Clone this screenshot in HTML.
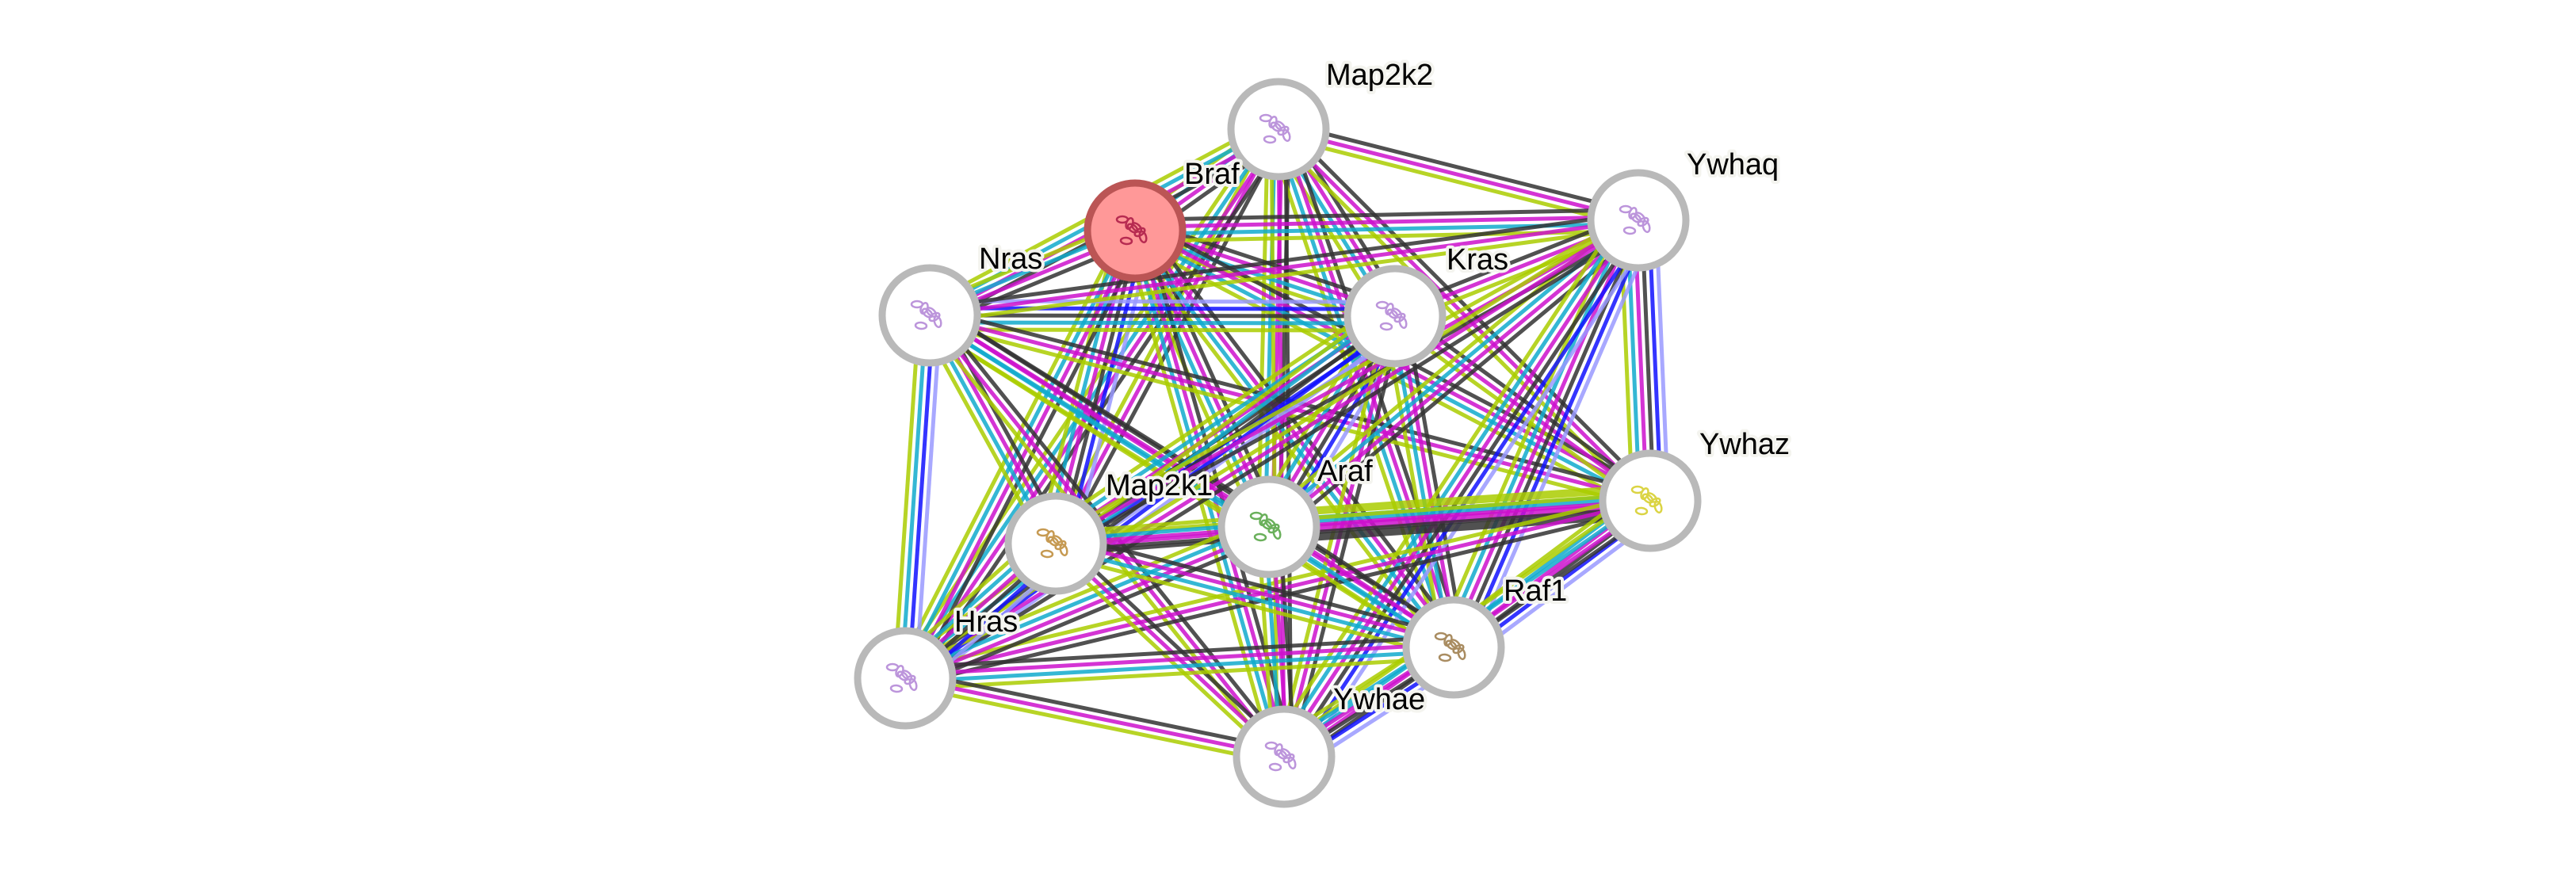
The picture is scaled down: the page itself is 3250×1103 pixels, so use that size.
<!DOCTYPE html>
<html><head><meta charset="utf-8">
<style>
html,body{margin:0;padding:0;background:#fff;width:3250px;height:1103px;overflow:hidden}
svg{display:block}
text{font-family:"Liberation Sans",Arial,sans-serif;font-size:38px;fill:#000;paint-order:stroke;stroke:#f4f4ef;stroke-width:8px;stroke-linejoin:round}
</style></head>
<body>
<svg id="s" width="3250" height="1103" viewBox="0 0 3250 1103" xmlns="http://www.w3.org/2000/svg">
<g id="edges"></g>
<g id="nodes"></g>
<g id="labels">
<text x="1673" y="107">Map2k2</text>
<text x="1494" y="232">Braf</text>
<text x="1235" y="339">Nras</text>
<text x="1825" y="340">Kras</text>
<text x="2128" y="220">Ywhaq</text>
<text x="2144" y="573">Ywhaz</text>
<text x="1662" y="607">Araf</text>
<text x="1395" y="625">Map2k1</text>
<text x="1204" y="797">Hras</text>
<text x="1897" y="758">Raf1</text>
<text x="1682" y="895">Ywhae</text>
</g>
</svg>
<script>
var N={A:[1613,163],B:[1432,291],N:[1173,398],K:[1760,399],Q:[2067,278],Z:[2082,632],R:[1601,665],M:[1332,686],H:[1142,856],F:[1834,817],E:[1620,955]};
var C={k:"#333333",m:"#cc11cc",c:"#11aacc",y:"#aacc00",b:"#1111ff",l:"#9999ff"};
var ras="NKH",raf="BRF",mek="AM";
function grp(x){if(ras.indexOf(x)>=0)return"ras";if(raf.indexOf(x)>=0)return"raf";if(mek.indexOf(x)>=0)return"mek";return"y14";}
var keys=Object.keys(N),eg=document.getElementById("edges");
var html="";
var special={"NK":"lbkcy","NH":"lbcy","KH":"lbkcy","QZ":"lbkmcy","ZF":"lbkmcy","QE":"lbkmcy","ZE":"kmcy","FE":"lbkmcy","KR":"lbkmcy","NB":"kmcy","BM":"lbkmcy","AB":"kmcy","MR":"kmcy","KM":"lbkmcy","HM":"lbkmcy","QF":"lbkmcy"};
for(var i=0;i<keys.length;i++)for(var j=i+1;j<keys.length;j++){
 var a=keys[i],b=keys[j],ga=grp(a),gb=grp(b),p=[ga,gb].sort().join("-"),set;
 if(p=="raf-ras"||p=="mek-raf")set="kmcy";
 else if(p=="raf-raf"||p=="y14-y14"||p=="raf-y14")set="kmcy";
 else if(p=="mek-ras")set="kmcy";
 else set="kmy";
 if(special[a+b])set=special[a+b];
 if(special[b+a])set=special[b+a];
 var w=5,sp=9;
 if((a=="Z"&&b=="R")||(a=="R"&&b=="Z")){set="kmcy";w=10;sp=11;}
 var x1=N[a][0],y1=N[a][1],x2=N[b][0],y2=N[b][1],dx=x2-x1,dy=y2-y1,L=Math.hypot(dx,dy),nx=-dy/L,ny=dx/L;
 var n=set.length;
 for(var k=0;k<n;k++){var o=(k-(n-1)/2)*sp;
  html+='<line x1="'+(x1+nx*o).toFixed(1)+'" y1="'+(y1+ny*o).toFixed(1)+'" x2="'+(x2+nx*o).toFixed(1)+'" y2="'+(y2+ny*o).toFixed(1)+'" stroke="'+C[set[k]]+'" stroke-width="'+w+'" stroke-opacity="0.85"/>';}
}
eg.innerHTML=html;
var col={A:"#b58ad8",B:"#b0204a",N:"#b58ad8",K:"#b58ad8",Q:"#b58ad8",Z:"#d8d030",R:"#5aa84a",M:"#c09040",H:"#b58ad8",F:"#a08050",E:"#b58ad8"};
var nh="";
for(var i=0;i<keys.length;i++){var k=keys[i],x=N[k][0],y=N[k][1];
 if(k=="B")nh+='<circle cx="'+x+'" cy="'+y+'" r="60" fill="#ff9898" stroke="#bb5555" stroke-width="9"/>';
 else nh+='<circle cx="'+x+'" cy="'+y+'" r="60" fill="#fff" stroke="#b9b9b9" stroke-width="9"/>';
 var c=col[k];
 nh+='<g fill="none" stroke="'+c+'" stroke-width="2.5" opacity="0.9">';
 for(var t=0;t<7;t++){var ax=x-16+((t*13)%30),ay=y-14+((t*11)%28);
  nh+='<ellipse cx="'+ax+'" cy="'+ay+'" rx="7" ry="4" transform="rotate('+(t*37)+' '+ax+' '+ay+')"/>';}
 nh+='</g>';
}
document.getElementById("nodes").innerHTML=nh;
</script>
</body></html>
